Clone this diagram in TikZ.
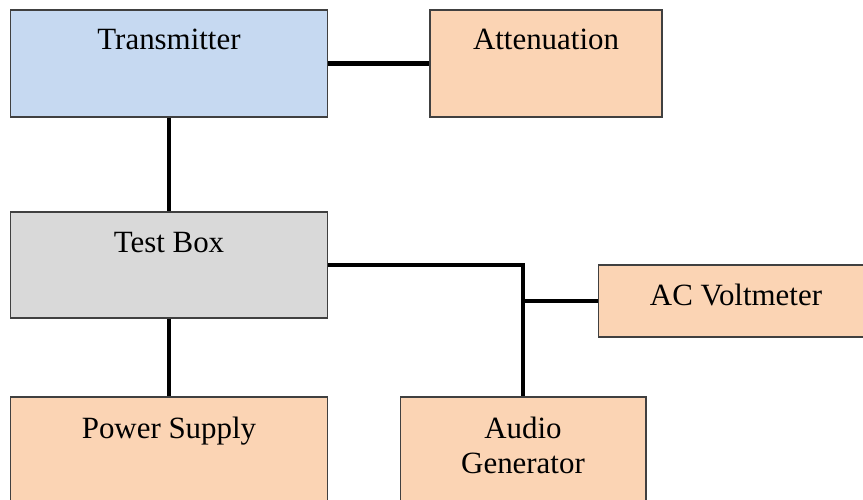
\documentclass[tikz,border=0pt]{standalone}
\usepackage{fontspec}
\setmainfont{Liberation Serif}
\usetikzlibrary{positioning}
\definecolor{txblue}{RGB}{198,217,241}
\definecolor{peach}{RGB}{251,212,180}
\definecolor{boxgray}{RGB}{217,217,217}
\definecolor{rim}{RGB}{64,64,64}

\begin{document}
\begin{tikzpicture}[x=0.02cm,y=-0.02cm,
  blk/.style={draw=rim,line width=0.6pt,inner sep=0pt},
  txt/.style={inner sep=0pt,font=\fontsize{17.6}{20}\selectfont,align=center},
  wire/.style={line width=2.3pt}]
\useasboundingbox (0,0) rectangle (863,500);
\clip (0,0) rectangle (863,500);
% boxes
\node[blk,fill=txblue,minimum width=6.36cm,minimum height=2.14cm] (tx) at (169,63.5) {};
\node[blk,fill=peach,minimum width=4.64cm,minimum height=2.14cm] (att) at (546,63.5) {};
\node[blk,fill=boxgray,minimum width=6.36cm,minimum height=2.12cm] (tb) at (169,265) {};
\node[blk,fill=peach,minimum width=5.52cm,minimum height=1.44cm] (ac) at (736,301) {};
\node[blk,fill=peach,minimum width=6.36cm,minimum height=2.4cm] (ps) at (169,457) {};
\node[blk,fill=peach,minimum width=4.92cm,minimum height=2.4cm] (ag) at (523,457) {};
% labels
\node[txt,below=0.38cm of tx.north] (txlbl) {Transmitter};
\node[txt,below=0.38cm of att.north] (attlbl) {Attenuation};
\node[txt,below=0.4cm of tb.north] (tblbl) {Test Box};
\node[txt,below=0.38cm of ac.north] (aclbl) {AC Voltmeter};
\node[txt,below=0.4cm of ps.north] (pslbl) {Power Supply};
\node[txt,below=0.4cm of ag.north] (aglbl) {Audio\\Generator};
% connections
\draw[wire] (tx.east) -- (att.west);
\draw[wire] (tx.south) -- (tb.north);
\draw[wire] (tb.south) -- (ps.north);
\draw[wire] (tb.east) -| (ag.north);
\draw[wire] (ac.west) -- (ac.west -| ag.north);
\end{tikzpicture}
\end{document}
